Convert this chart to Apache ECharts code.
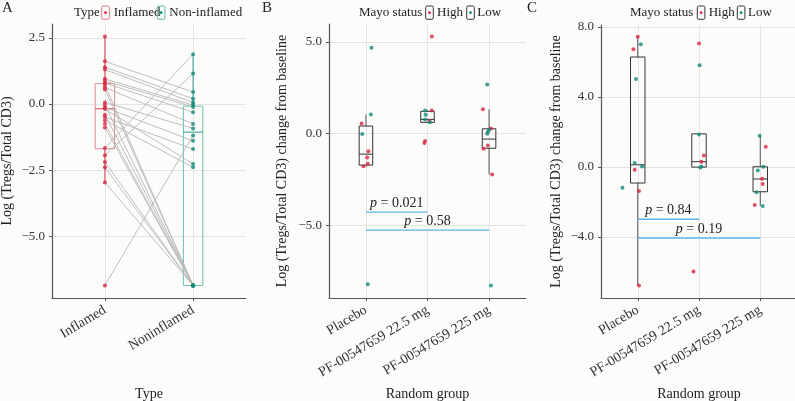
<!DOCTYPE html>
<html><head><meta charset="utf-8">
<script src="https://cdn.jsdelivr.net/npm/echarts@6/dist/echarts.min.js"></script>
<style>html,body{margin:0;padding:0;background:#fcfcfa}#c{width:795px;height:401px}</style>
</head><body><div id="c"></div>
<script>
// ---------- DATA ----------
const typeCategories = ['Inflamed', 'Noninflamed'];
const groupCategories = ['Placebo', 'PF-00547659 22.5 mg', 'PF-00547659 225 mg'];
const yTicksA = [-5, -2.5, 0, 2.5];
const yTicksB = [-5, 0, 5];
const yTicksC = [-4, 0, 4, 8];

// Panel A: paired patient values (null = not available)
const inflamedValues = [2.55, 1.61, 1.39, 1.30, 0.95, 0.87, 0.79, 0.72, 0.62, 0.55, 0.06, -0.04, -0.13, -0.19, -0.40, -0.49, -0.61, -0.74, -0.89, -1.66, -1.93, -2.19, -2.39, -2.96, -6.85];
const noninflamedValues = [null, 0.45, 0.20, 0.06, -0.04, -0.11, -0.31, -6.85, -0.75, -6.85, -0.92, -6.85, -1.39, -2.26, -6.85, -1.70, -2.39, -6.85, -6.85, 1.88, 1.15, -6.85, -6.85, -6.85, -1.19];
// box stats: [lower whisker, Q1, median, Q3, upper whisker]
const boxStatsA = [[-2.96, -1.69, -0.18, 0.77, 2.55], [-6.85, -6.85, -1.06, -0.08, 1.88]];

// Panel B: change from baseline
const bValues = [4.68, 1.05, 0.56, -0.02, -0.95, -1.29, -1.64, -1.77, -8.20, 5.30, 1.27, 1.27, 1.04, 0.77, 0.69, 0.63, -0.40, -0.51, 2.68, 1.33, 0.29, 0.20, 0.10, 0.00, -0.64, -0.82, -2.22, -8.27];
const bGroup = [1,1,1,1,1,1,1,1,1, 2,2,2,2,2,2,2,2,2, 3,3,3,3,3,3,3,3,3,3];
const bStatus = ['Low','Low','High','Low','High','High','High','High','Low', 'High','Low','High','Low','Low','High','Low','High','High', 'Low','High','High','Low','Low','Low','High','High','High','Low'];
const bJitter = [0.09,0.08,-0.07,-0.06,0.04,0.02,0.03,-0.04,0.03, 0.07,-0.04,0.07,-0.03,-0.04,0.03,0.04,-0.04,-0.05, -0.03,-0.10,0.03,0.00,-0.02,-0.03,-0.02,-0.09,0.05,0.03];
const boxStatsB = [[-1.77, -1.71, -1.11, 0.42, 1.05], [0.60, 0.62, 0.78, 1.22, 1.27], [-2.22, -0.79, -0.29, 0.27, 1.33]];
const pCompareB = [[1, 2, -4.27, '0.021'], [1, 3, -5.25, '0.58']];

// Panel C: change from baseline
const cValues = [7.43, 7.00, 6.71, 5.02, 0.21, 0.02, -0.17, -1.20, -1.39, -6.79, 7.05, 5.80, 1.84, 0.64, 0.29, 0.02, -0.04, -5.99, 1.77, 1.14, 0.00, -0.21, -0.68, -0.99, -1.45, -2.19, -2.24];
const cGroup = [1,1,1,1,1,1,1,1,1,1, 2,2,2,2,2,2,2,2, 3,3,3,3,3,3,3,3,3];
const cStatus = ['High','Low','High','Low','Low','Low','High','Low','High','High', 'High','Low','Low','High','High','Low','Low','High', 'Low','High','Low','Low','High','High','Low','High','Low'];
const cJitter = [0.00,0.05,-0.07,-0.03,-0.05,0.07,-0.05,-0.25,0.02,0.02, 0.00,0.01,0.00,0.08,0.04,0.04,0.02,-0.09, -0.01,0.09,0.05,-0.04,0.03,0.04,-0.06,-0.09,0.04];
const boxStatsC = [[-6.79, -0.93, 0.11, 6.27, 7.43], [-0.04, -0.02, 0.29, 1.88, 1.88], [-2.24, -1.43, -0.70, 0.00, 1.77]];
const pCompareC = [[1, 2, -3.0, '0.84'], [1, 3, -4.07, '0.19']];

const legendTypeTitle = 'Type';
const legendTypeNames = ['Inflamed', 'Non-inflamed'];
const legendMayoTitle = 'Mayo status';
const legendMayoNames = ['High', 'Low'];

// ---------- STYLE ----------
const FF = 'Liberation Serif';
const RED = '#dc2340', TEAL = '#108a7b';
const statusColor = {High: RED, Low: TEAL};
const AXC = '#555';

function fmtY(v) { return v.toFixed(1).replace('-', '\u2212'); }

function yAxisCfg(gi, min, max, ticks, name, gap) {
  return {
    type: 'value', gridIndex: gi, min: min, max: max,
    axisLine: {show: true, lineStyle: {color: AXC, width: 1.2}},
    axisTick: {show: true, customValues: ticks, length: 3, lineStyle: {color: AXC}},
    axisLabel: {customValues: ticks, formatter: fmtY, fontFamily: FF, fontSize: 13, color: '#333', margin: 7},
    splitLine: {show: true, lineStyle: {color: '#e4e4e4', width: 1}},
    name: name, nameLocation: 'middle', nameGap: gap,
    nameTextStyle: {fontFamily: FF, fontSize: 14, color: '#222'}
  };
}
function xAxisCfg(gi, cats, name) {
  const idx = cats.map((c, i) => i + 1);
  return {
    type: 'value', gridIndex: gi, min: 0.4, max: cats.length + 0.6,
    axisLine: {show: true, onZero: false, lineStyle: {color: AXC, width: 1.2}},
    axisTick: {show: true, customValues: idx, length: 3, lineStyle: {color: AXC}},
    axisLabel: {customValues: idx, formatter: v => cats[Math.round(v) - 1], rotate: 31,
      fontFamily: FF, fontSize: 14, color: '#333', margin: 11},
    splitLine: {show: true, lineStyle: {color: '#e4e4e4', width: 1}},
    name: name, nameLocation: 'middle', nameGap: 89,
    nameTextStyle: {fontFamily: FF, fontSize: 14, color: '#222'}
  };
}

function boxSeries(gi, stats, halfW, boxCols, medCols, whiskCols) {
  return {
    type: 'custom', xAxisIndex: gi, yAxisIndex: gi, z: 2,
    data: stats.map((s, i) => [i + 1].concat(s)),
    encode: {x: 0, y: [1, 2, 3, 4, 5]},
    renderItem: function (params, api) {
      const x = api.value(0), i = params.dataIndex;
      const lo = api.coord([x, api.value(1)]), q1 = api.coord([x, api.value(2)]),
            md = api.coord([x, api.value(3)]), q3 = api.coord([x, api.value(4)]),
            hi = api.coord([x, api.value(5)]);
      const l = api.coord([x - halfW, 0])[0], r = api.coord([x + halfW, 0])[0];
      return {type: 'group', children: [
        {type: 'line', shape: {x1: hi[0], y1: hi[1], x2: q3[0], y2: q3[1]}, style: {stroke: whiskCols[i], lineWidth: 1}},
        {type: 'line', shape: {x1: lo[0], y1: lo[1], x2: q1[0], y2: q1[1]}, style: {stroke: whiskCols[i], lineWidth: 1}},
        {type: 'rect', shape: {x: l, y: q3[1], width: r - l, height: q1[1] - q3[1]}, style: {fill: 'none', stroke: boxCols[i], lineWidth: 1}},
        {type: 'line', shape: {x1: l, y1: md[1], x2: r, y2: md[1]}, style: {stroke: medCols[i], lineWidth: 1}}
      ]};
    }
  };
}

function pSeries(gi, comps) {
  return {
    type: 'custom', xAxisIndex: gi, yAxisIndex: gi, z: 5,
    data: comps.map(c => [c[0], c[1], c[2]]),
    encode: {x: [0, 1], y: 2},
    renderItem: function (params, api) {
      const a = api.coord([api.value(0), api.value(2)]), b = api.coord([api.value(1), api.value(2)]);
      return {type: 'group', children: [
        {type: 'line', shape: {x1: a[0], y1: a[1], x2: b[0], y2: b[1]}, style: {stroke: '#5ab6ea', lineWidth: 1.3}},
        {type: 'text', x: (a[0] + b[0]) / 2, y: a[1] - 2,
          style: {text: '{i|p} = ' + comps[params.dataIndex][3], align: 'center', verticalAlign: 'bottom',
            fontFamily: FF, fontSize: 14, fill: '#222',
            rich: {i: {fontStyle: 'italic', fontFamily: FF, fontSize: 14, fill: '#222'}}}}
      ]};
    }
  };
}

function scatterSeries(gi, values, groups, jit, status, which) {
  const d = [];
  values.forEach((v, i) => { if (status[i] === which) d.push([groups[i] + jit[i], v]); });
  return {type: 'scatter', xAxisIndex: gi, yAxisIndex: gi, data: d, symbol: 'circle', symbolSize: 4,
    itemStyle: {color: statusColor[which]}, z: 4};
}

// ---------- BUILD ----------
const pairLines = [];
inflamedValues.forEach((v, i) => {
  if (v !== null && noninflamedValues[i] !== null) pairLines.push({coords: [[1, v], [2, noninflamedValues[i]]]});
});
const inflPts = inflamedValues.filter(v => v !== null).map(v => [1, v]);
const noninflPts = noninflamedValues.filter(v => v !== null).map(v => [2, v]);

function legendGroup(x0, title, names, keyStroke, dotFill, keyX, textX) {
  const els = [{type: 'text', x: x0, y: 13, style: {text: title, fontFamily: FF, fontSize: 13, fill: '#222', verticalAlign: 'middle'}}];
  names.forEach((n, k) => {
    els.push({type: 'rect', shape: {x: keyX[k], y: 6, width: 7.6, height: 13.3, r: 1.5}, style: {fill: 'none', stroke: keyStroke[k], lineWidth: 1}});
    els.push({type: 'circle', shape: {cx: keyX[k] + 3.8, cy: 12.7, r: 1.4}, style: {fill: dotFill[k]}});
    els.push({type: 'text', x: textX[k], y: 13, style: {text: n, fontFamily: FF, fontSize: 13, fill: '#222', verticalAlign: 'middle'}});
  });
  return els;
}

const graphics = [
  {type: 'text', x: 2, y: 1, style: {text: 'A', fontFamily: FF, fontSize: 15, fill: '#222'}},
  {type: 'text', x: 262, y: 1, style: {text: 'B', fontFamily: FF, fontSize: 15, fill: '#222'}},
  {type: 'text', x: 527, y: 1, style: {text: 'C', fontFamily: FF, fontSize: 15, fill: '#222'}}
].concat(
  legendGroup(74, legendTypeTitle, legendTypeNames, ['#e27885', '#5cb7ab'], [RED, TEAL], [101.7, 157.3], [113.7, 169.3]),
  legendGroup(359, legendMayoTitle, legendMayoNames, ['#333', '#333'], [RED, TEAL], [425.7, 466.7], [437, 477.3]),
  legendGroup(630, legendMayoTitle, legendMayoNames, ['#333', '#333'], [RED, TEAL], [697.3, 737.3], [708.7, 748])
);

const option = {
  animation: false,
  backgroundColor: '#fcfcfa',
  textStyle: {fontFamily: FF},
  grid: [
    {left: 52, top: 24, width: 194, height: 274, outerBoundsMode: 'none', containLabel: false},
    {left: 329, top: 24, width: 197, height: 274, outerBoundsMode: 'none', containLabel: false},
    {left: 601, top: 25, width: 196, height: 273, outerBoundsMode: 'none', containLabel: false}
  ],
  xAxis: [
    xAxisCfg(0, typeCategories, 'Type'),
    xAxisCfg(1, groupCategories, 'Random group'),
    xAxisCfg(2, groupCategories, 'Random group')
  ],
  yAxis: [
    yAxisCfg(0, -7.32, 3.02, yTicksA, 'Log (Tregs/Total CD3)', 38),
    yAxisCfg(1, -8.95, 5.98, yTicksB, 'Log (Tregs/Total CD3) change from baseline', 40),
    yAxisCfg(2, -7.5, 8.1, yTicksC, 'Log (Tregs/Total CD3) change from baseline', 38)
  ],
  graphic: graphics,
  series: [
    boxSeries(0, boxStatsA, 0.11, ['#e48794', '#6cc0b5'], ['#d8394b', '#2a9a8b'], ['#d8394b', '#2a9a8b']),
    {type: 'lines', coordinateSystem: 'cartesian2d', xAxisIndex: 0, yAxisIndex: 0, data: pairLines, z: 3,
      lineStyle: {color: '#b8b8b8', width: 0.9, opacity: 1}},
    {type: 'scatter', xAxisIndex: 0, yAxisIndex: 0, data: inflPts, symbolSize: 4, itemStyle: {color: RED}, z: 4},
    {type: 'scatter', xAxisIndex: 0, yAxisIndex: 0, data: noninflPts, symbolSize: 4, itemStyle: {color: TEAL}, z: 4},
    boxSeries(1, boxStatsB, 0.11, ['#333', '#333', '#333'], ['#333', '#333', '#333'], ['#555', '#555', '#555']),
    scatterSeries(1, bValues, bGroup, bJitter, bStatus, 'High'),
    scatterSeries(1, bValues, bGroup, bJitter, bStatus, 'Low'),
    pSeries(1, pCompareB),
    boxSeries(2, boxStatsC, 0.118, ['#333', '#333', '#333'], ['#333', '#333', '#333'], ['#555', '#555', '#555']),
    scatterSeries(2, cValues, cGroup, cJitter, cStatus, 'High'),
    scatterSeries(2, cValues, cGroup, cJitter, cStatus, 'Low'),
    pSeries(2, pCompareC)
  ]
};
const chart = echarts.init(document.getElementById('c'), null, {renderer: 'canvas'});
chart.setOption(option);
</script></body></html>
